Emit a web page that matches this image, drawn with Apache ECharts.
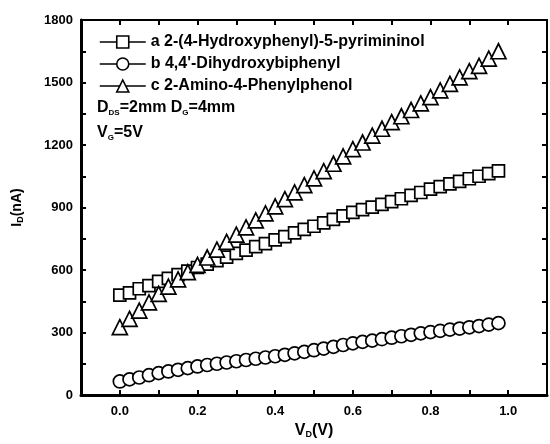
<!DOCTYPE html>
<html>
<head>
<meta charset="utf-8">
<script src="https://cdn.jsdelivr.net/npm/echarts@6/dist/echarts.min.js"></script>
<style>
  html, body { margin: 0; padding: 0; background: #fff; }
  #chart { width: 550px; height: 444px; }
</style>
</head>
<body>
<div id="chart"></div>
<script>
// V_D (V) sweep
const vd = [0, 0.025, 0.05, 0.075, 0.1, 0.125, 0.15, 0.175, 0.2, 0.225,
  0.25, 0.275, 0.3, 0.325, 0.35, 0.375, 0.4, 0.425, 0.45, 0.475,
  0.5, 0.525, 0.55, 0.575, 0.6, 0.625, 0.65, 0.675, 0.7, 0.725,
  0.75, 0.775, 0.8, 0.825, 0.85, 0.875, 0.9, 0.925, 0.95, 0.975]

// I_D (nA)
const idA = [479, 490, 510, 525, 545, 560, 578, 595, 612, 628,
  645, 662, 680, 695, 712, 727, 745, 760, 778, 795,
  810, 826, 843, 860, 877, 890, 902, 915, 928, 942,
  958, 972, 988, 1000, 1013, 1025, 1038, 1050, 1063, 1076]
const idB = [65, 75, 84, 95, 105, 113, 121, 129, 137, 144,
  150, 156, 162, 168, 174, 180, 186, 193, 200, 207,
  215, 223, 231, 240, 248, 255, 261, 268, 275, 282,
  289, 296, 302, 308, 314, 319, 325, 331, 338, 345]
const idC = [326, 365, 405, 445, 485, 520, 555, 590, 625, 660,
  698, 735, 770, 805, 838, 872, 905, 940, 973, 1007,
  1040, 1075, 1110, 1145, 1180, 1212, 1245, 1278, 1310, 1338,
  1368, 1400, 1430, 1462, 1493, 1525, 1555, 1580, 1615, 1650]

const names = [
  'a 2-(4-Hydroxyphenyl)-5-pyrimininol',
  'b 4,4\'-Dihydroxybiphenyl',
  'c 2-Amino-4-Phenylphenol'
]

const font = '"Liberation Sans", Arial, sans-serif'

const chart = echarts.init(document.getElementById('chart'), null, { renderer: 'canvas' })

function mkSeries(name, ys, symbol, size) {
  return {
    name: name,
    type: 'line',
    data: vd.map((v, i) => [v, ys[i]]),
    symbol: symbol,
    symbolSize: size,
    showSymbol: true,
    lineStyle: { opacity: 0, width: 0 },
    itemStyle: { color: '#fff', borderColor: '#000', borderWidth: 1.7 },
    emphasis: { disabled: true },
    animation: false
  }
}

const tickStyle = { color: '#000', width: 2 }

const option = {
  backgroundColor: '#fff',
  animation: false,
  grid: { left: 81, right: 2, top: 20, bottom: 47 },
  legend: {
    left: 94,
    top: 29,
    orient: 'vertical',
    itemWidth: 46,
    itemHeight: 15,
    itemGap: 6,
    textStyle: { fontFamily: font, fontWeight: 'bold', fontSize: 16, color: '#000' },
    lineStyle: { color: '#000', width: 1.5, opacity: 1 },
    itemStyle: { color: '#fff', borderColor: '#000', borderWidth: 1.6 },
    data: names
  },
  xAxis: [
    {
      type: 'value',
      min: -0.1,
      max: 1.1,
      interval: 0.1,
      axisLine: { onZero: false, lineStyle: { color: '#000', width: 3 } },
      axisTick: { inside: true, length: 5, lineStyle: tickStyle },
      splitLine: { show: false },
      axisLabel: {
        margin: 10,
        fontFamily: font, fontWeight: 'bold', fontSize: 13, color: '#000',
        formatter: function (v) {
          const k = Math.round(v * 10)
          if (k < 0 || k > 10 || k % 2 !== 0) return ''
          return (k / 10).toFixed(1)
        }
      },
      name: '{b|V}{s|D}{b|(V)}',
      nameLocation: 'middle',
      nameGap: 28,
      nameTextStyle: {
        rich: {
          b: { fontFamily: font, fontWeight: 'bold', fontSize: 16, color: '#000' },
          s: { fontFamily: font, fontWeight: 'bold', fontSize: 9, color: '#000', verticalAlign: 'bottom', padding: [7, 0, 0, 0] }
        }
      }
    },
    {
      type: 'value', position: 'top',
      min: -0.1, max: 1.1, interval: 0.1,
      axisLine: { onZero: false, lineStyle: { color: '#000', width: 2 } },
      axisTick: { inside: true, length: 5, lineStyle: tickStyle },
      axisLabel: { show: false },
      splitLine: { show: false }
    }
  ],
  yAxis: [
    {
      type: 'value',
      min: 0,
      max: 1800,
      interval: 150,
      axisLine: { show: true, onZero: false, lineStyle: { color: '#000', width: 3 } },
      axisTick: { show: true, inside: true, length: 5, lineStyle: tickStyle },
      splitLine: { show: false },
      axisLabel: {
        margin: 8,
        fontFamily: font, fontWeight: 'bold', fontSize: 13, color: '#000',
        formatter: function (v) { return v % 300 === 0 ? String(v) : '' }
      },
      name: '{b|I}{s|D}{b|(nA)}',
      nameLocation: 'middle',
      nameGap: 56,
      nameRotate: 90,
      nameTextStyle: {
        rich: {
          b: { fontFamily: font, fontWeight: 'bold', fontSize: 14, color: '#000' },
          s: { fontFamily: font, fontWeight: 'bold', fontSize: 9, color: '#000', verticalAlign: 'bottom', padding: [6, 0, 0, 0] }
        }
      }
    },
    {
      type: 'value', position: 'right',
      min: 0, max: 1800, interval: 150,
      axisLine: { show: true, onZero: false, lineStyle: { color: '#000', width: 2 } },
      axisTick: { show: true, inside: true, length: 5, lineStyle: tickStyle },
      axisLabel: { show: false },
      splitLine: { show: false }
    }
  ],
  graphic: [
    {
      type: 'text', left: 97, top: 100,
      style: {
        text: '{b|D}{s|DS}{b|=2mm D}{s|G}{b|=4mm}',
        rich: {
          b: { fontFamily: font, fontWeight: 'bold', fontSize: 16, fill: '#000' },
          s: { fontFamily: font, fontWeight: 'bold', fontSize: 8, fill: '#000', padding: [9, 0, 0, 0] }
        }
      }
    },
    {
      type: 'text', left: 97, top: 125,
      style: {
        text: '{b|V}{s|G}{b|=5V}',
        rich: {
          b: { fontFamily: font, fontWeight: 'bold', fontSize: 16, fill: '#000' },
          s: { fontFamily: font, fontWeight: 'bold', fontSize: 8, fill: '#000', padding: [9, 0, 0, 0] }
        }
      }
    }
  ],
  series: [
    mkSeries(names[0], idA, 'rect', 12),
    mkSeries(names[1], idB, 'circle', 13),
    mkSeries(names[2], idC, 'triangle', 15)
  ]
}

chart.setOption(option)
</script>
</body>
</html>
